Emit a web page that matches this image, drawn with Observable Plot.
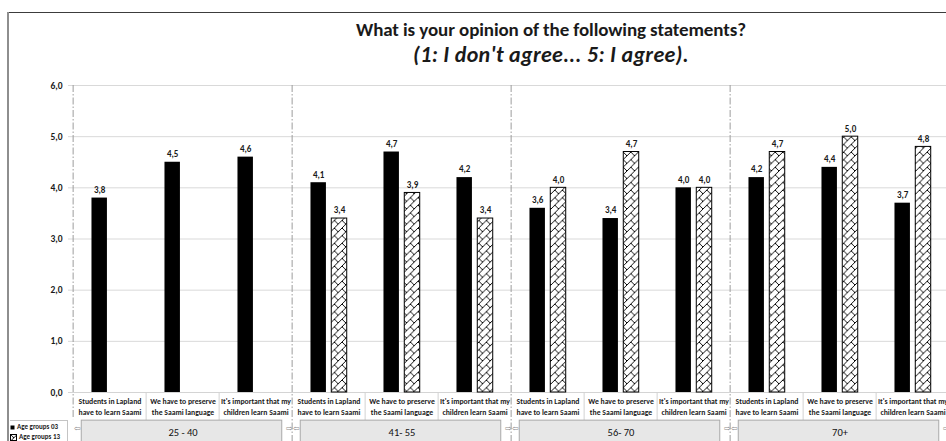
<!DOCTYPE html>
<html>
<head>
<meta charset="utf-8">
<script src="https://cdn.jsdelivr.net/npm/d3@7"></script>
<script src="https://cdn.jsdelivr.net/npm/@observablehq/plot@0.6"></script>
<style>
  html, body { margin: 0; padding: 0; background: #fff; overflow: hidden; }
  #chart { position: relative; width: 946px; height: 441px; overflow: hidden;
           font-family: Carlito, Lato, sans-serif; color: #1a1a1a; }
  #chart > svg { position: absolute; left: 0; top: 0; }
  .frame-top { position: absolute; left: 8px; right: -20px; top: 12px; border-top: 1px solid #3c3c3c; }
  .frame-left { position: absolute; left: 7px; top: 12px; bottom: 0; border-left: 2px solid #8e8e8e; }
  .title { position: absolute; left: 0; width: 1102px; text-align: center;
           line-height: 1; font-weight: bold; }
  .t1 { top: 20px; font-size: 19px; letter-spacing: -0.1px; }
  .t2 { top: 44px; font-size: 22px; font-style: italic; letter-spacing: 0.3px; }
  .legend { position: absolute; left: 10px; top: 420px; width: 57px; bottom: 0;
            border-top: 1px solid #c4c4c4; border-right: 1px solid #c4c4c4;
            font-size: 7px; font-weight: bold; line-height: 10px; padding-top: 1px; }
  .legend div { display: flex; align-items: center; white-space: nowrap; }
  .legend svg { margin-right: 2px; }
</style>
</head>
<body>
<div id="chart">
  <div class="frame-top"></div>
  <div class="frame-left"></div>
  <div class="title t1">What is your opinion of the following statements?</div>
  <div class="title t2">(1: I don't agree... 5: I agree).</div>
</div>
<script>
// Age-group columns of the pivot chart
const ageGroups = ["25 - 40", "41- 55", "56- 70", "70+"];
// Statements asked in every age group (two label lines each)
const statements = [
  "Students in Lapland\nhave to learn Saami",
  "We have to preserve\nthe Saami language",
  "It's important that my\nchildren learn Saami"
];
// Series shown in the legend
const seriesNames = ["Age groups 03", "Age groups 13"];
// Mean answers per age group, one value per statement
const values03 = [
  [3.8, 4.5, 4.6],
  [4.1, 4.7, 4.2],
  [3.6, 3.4, 4.0],
  [4.2, 4.4, 3.7]
];
const values13 = [
  [null, null, null],
  [3.4, 3.9, 3.4],
  [4.0, 4.7, 4.0],
  [4.7, 5.0, 4.8]
];
// Value axis
const yDomain = [0, 6];
const yTickCount = 6;

const fmt = v => v.toFixed(1).replace(".", ",");
const FONT = 'Carlito, Lato, sans-serif';

// One band per (age group, statement)
const cats = ageGroups.flatMap((group, gi) =>
  statements.map((statement, si) => ({key: `${gi}-${si}`, group, gi, si, statement})));
const rows03 = cats.map(c => ({...c, value: values03[c.gi][c.si]})).filter(d => d.value != null);
const rows13 = cats.map(c => ({...c, value: values13[c.gi][c.si]})).filter(d => d.value != null);
const groupRows = ageGroups.map((group, gi) => ({group, key: `${gi}-1`, start: `${gi}-0`}));

const width = 953, height = 452;
const marginLeft = 68, marginRight = 0, marginTop = 85, marginBottom = 60;
const bw = (width - marginLeft - marginRight) / cats.length; // band width
const half = bw / 2;

const chart = Plot.plot({
  width, height, marginLeft, marginRight, marginTop, marginBottom,
  style: {fontFamily: FONT, fontSize: "9.5px", fontWeight: "bold", color: "#1a1a1a",
          background: "transparent", maxWidth: "none", overflow: "visible"},
  x: {domain: cats.map(c => c.key), padding: 0, axis: null},
  y: {domain: yDomain, ticks: yTickCount, tickFormat: fmt, tickSize: 0, tickPadding: 6, label: null},
  marks: [
    // horizontal gridlines
    Plot.ruleY(d3.range(1, 7), {stroke: "#d9d9d9"}),
    Plot.ruleY([0], {stroke: "#d4d4d4"}),
    // thin separators between statement labels
    Plot.ruleX(cats.filter(c => c.si > 0), {x: "key", dx: -half, y1: 0, y2: -0.55, stroke: "#d2d2d2"}),
    // dash-dot separators between age groups
    Plot.ruleX(cats.filter(c => c.si === 0 && c.gi === 0), {x: "key", dx: -half, y1: 6, y2: -0.53,
      stroke: "#9c9c9c", strokeDasharray: "7,2,1.5,2"}),
    Plot.ruleX(cats.filter(c => c.si === 0 && c.gi > 0), {x: "key", dx: -half, y1: 6, y2: -1.2,
      stroke: "#9c9c9c", strokeDasharray: "7,2,1.5,2"}),
    // bars
    Plot.barY(rows03, {x: "key", y: "value", fill: "#000", insetLeft: half - 18.4, insetRight: half + 2.2}),
    Plot.barY(rows13, {x: "key", y: "value", fill: "url(#brick)", stroke: "#000", strokeWidth: 1,
      insetLeft: half + 2.4, insetRight: half - 18.6}),
    // value labels
    Plot.text(rows03, {x: "key", y: "value", text: d => fmt(d.value), dx: -10.3, dy: -8, fontSize: 9}),
    Plot.text(rows13, {x: "key", y: "value", text: d => fmt(d.value), dx: 10.5, dy: -8, fontSize: 9}),
    // statement labels
    Plot.text(cats, {x: "key", text: "statement", frameAnchor: "bottom", lineAnchor: "middle",
      dy: 13.5, lineHeight: 1.45, fontSize: 7.7, fill: "#1a1a1a"}),
    // age-group buttons
    Plot.rect(groupRows, {x: "key", y1: -0.55, y2: -1.3, insetLeft: 9 - bw, insetRight: 11 - bw,
      fill: "#e7e7e7", stroke: "#a9a9a9"}),
    Plot.text(groupRows, {x: "key", text: "group", frameAnchor: "bottom", lineAnchor: "middle", dy: 40,
      fontSize: 10.5, fontWeight: "normal", fill: "#111"}),
    Plot.text(groupRows, {x: "start", text: () => "\u21E6", dx: -half + 1, textAnchor: "start",
      frameAnchor: "bottom", lineAnchor: "middle", dy: 36, fontSize: 8, fontWeight: "normal", fill: "#8a8a8a"}),
    Plot.text(groupRows, {x: "start", text: () => "\u21E8", dx: half * 5 - 1, textAnchor: "end",
      frameAnchor: "bottom", lineAnchor: "middle", dy: 36, fontSize: 8, fontWeight: "normal", fill: "#8a8a8a"})
  ]
});

// brick-diagonal hatch used by the second series
const defs = d3.select(chart).insert("defs", ":first-child");
const pat = defs.append("pattern").attr("id", "brick").attr("patternUnits", "userSpaceOnUse")
  .attr("width", 8).attr("height", 8).attr("patternTransform", "scale(1.9)");
pat.append("rect").attr("width", 8).attr("height", 8).attr("fill", "#fff");
pat.append("path")
  .attr("d", "M-1,1L1,-1M0,4L4,0M0,8L8,0M4,8L8,4M7,9L9,7M0,0L2,2M4,4L6,6M4,0L6,2M0,4L2,6")
  .attr("stroke", "#000").attr("stroke-width", 0.5).attr("fill", "none");

const root = document.getElementById("chart");
root.appendChild(chart);

// legend box in the lower-left corner
const legend = document.createElement("div");
legend.className = "legend";
seriesNames.forEach((name, i) => {
  const item = document.createElement("div");
  const sw = i === 0
    ? '<svg width="5" height="5"><rect x="0.5" y="0.5" width="4" height="4" fill="#000"/></svg>'
    : '<svg width="7" height="7"><rect x="0.5" y="0.5" width="6" height="6" fill="url(#brick)" stroke="#000"/></svg>';
  item.innerHTML = sw + "<span></span>";
  item.querySelector("span").textContent = name;
  legend.appendChild(item);
});
root.appendChild(legend);
</script>
</body>
</html>
